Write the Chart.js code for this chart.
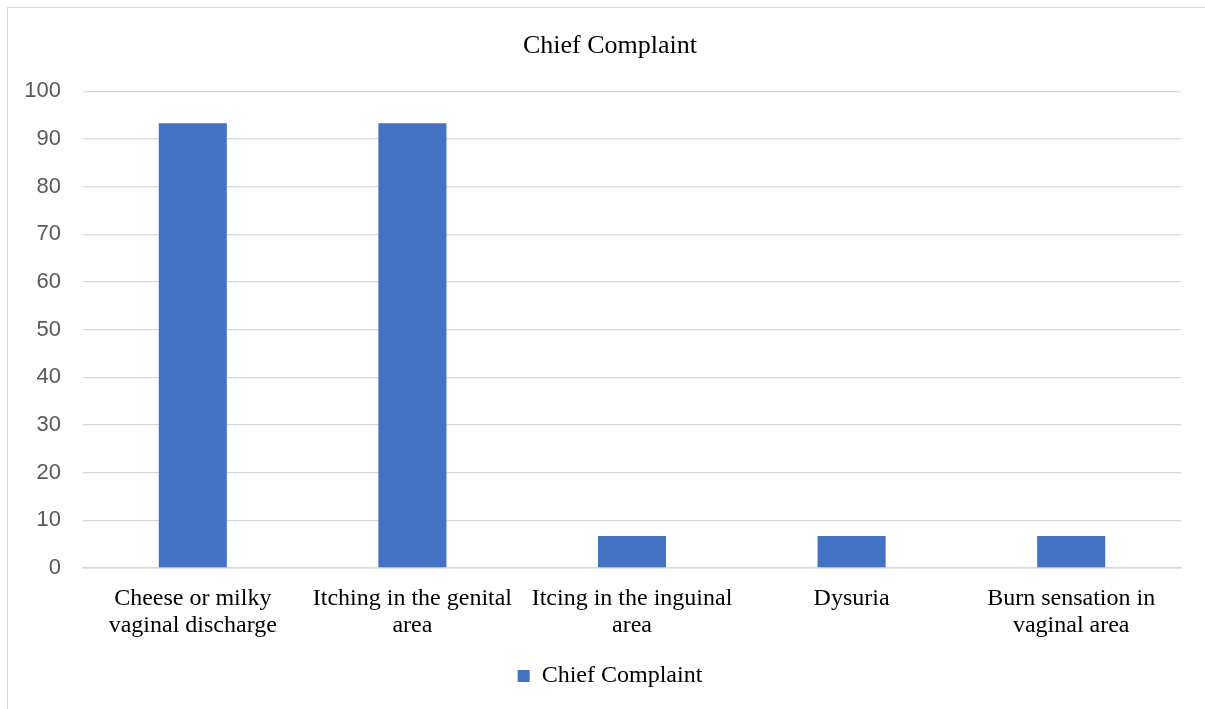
<!DOCTYPE html>
<html>
<head>
<meta charset="utf-8">
<script src="https://cdn.jsdelivr.net/npm/chart.js@4/dist/chart.umd.min.js"></script>
<style>
  html, body { margin: 0; padding: 0; background: #fff; overflow: hidden; }
  #wrap { position: relative; width: 1205px; height: 709px; }
  #frame { position: absolute; left: 7px; top: 7px; width: 1300px; height: 800px; border: 1px solid #d9d9d9; }
  #chart { position: absolute; left: 0; top: 0; }
</style>
</head>
<body>
<div id="wrap">
  <div id="frame"></div>
  <canvas id="chart" width="1205" height="709"></canvas>
</div>
<script>
// ---- chart data ----
const categories = [
  ["Cheese or milky", "vaginal discharge"],
  ["Itching in the genital", "area"],
  ["Itcing in the inguinal", "area"],
  ["Dysuria"],
  ["Burn sensation in", "vaginal area"]
];
const complaintValues = [93.3, 93.3, 6.7, 6.7, 6.7];
const yTicks = { min: 0, max: 100, step: 10 };

const serif = "'Liberation Serif', 'Times New Roman', serif";
const sans = "'Liberation Sans', Arial, sans-serif";

// left padding is wider than right so title/legend sit centred like the original;
// the y scale box is then stretched back to the canvas edge so its labels aren't clipped
const widenYAxis = {
  id: "widenYAxis",
  afterLayout(chart) {
    chart.scales.y.left = 0;
  }
};

new Chart(document.getElementById("chart"), {
  type: "bar",
  data: {
    labels: categories,
    datasets: [{
      label: "Chief Complaint",
      data: complaintValues,
      backgroundColor: "#4472c4",
      barPercentage: 0.31,
      categoryPercentage: 1
    }]
  },
  options: {
    responsive: false,
    animation: false,
    layout: { padding: { left: 39, right: 24, top: 0, bottom: 11 } },
    plugins: {
      title: {
        display: true,
        text: "Chief Complaint",
        color: "#000",
        font: { family: serif, size: 26, weight: "normal" },
        padding: { top: 31, bottom: 29 }
      },
      legend: {
        position: "bottom",
        labels: {
          color: "#000",
          font: { family: serif, size: 24 },
          boxWidth: 12,
          boxHeight: 12,
          padding: 10
        }
      },
      tooltip: { enabled: false }
    },
    scales: {
      x: {
        grid: { display: false },
        border: { color: "#d9d9d9", width: 1.5 },
        ticks: {
          color: "#000",
          font: { family: serif, size: 24, lineHeight: 1.125 },
          padding: 9,
          maxRotation: 0,
          autoSkip: false
        },
        afterFit: (scale) => { scale.height = 86; }
      },
      y: {
        min: yTicks.min,
        max: yTicks.max,
        grid: { color: "#d9d9d9", lineWidth: 1.3, drawTicks: false },
        border: { display: false },
        ticks: {
          stepSize: yTicks.step,
          color: "#595959",
          font: { family: sans, size: 22 },
          padding: 22
        },
        afterFit: (scale) => { scale.width = 44; }
      }
    }
  },
  plugins: [widenYAxis]
});
</script>
</body>
</html>
